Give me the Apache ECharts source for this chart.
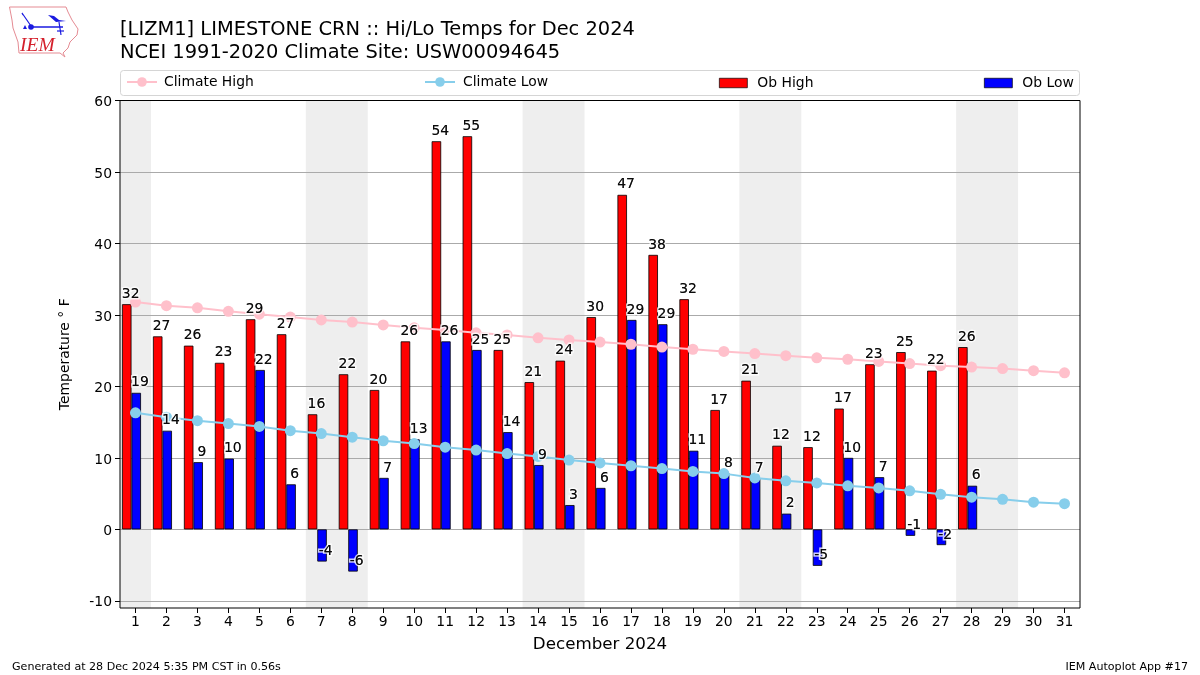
<!DOCTYPE html>
<html>
<head>
<meta charset="utf-8">
<style>html,body{margin:0;padding:0;background:#fff}#c{width:1200px;height:675px}</style>
<script src="https://cdn.jsdelivr.net/npm/echarts@6/dist/echarts.min.js"></script>
</head>
<body>
<div id="c"></div>
<script>
const days = [1,2,3,4,5,6,7,8,9,10,11,12,13,14,15,16,17,18,19,20,21,22,23,24,25,26,27,28,29,30,31];
const obHigh = [31.5,27.0,25.7,23.3,29.4,27.3,16.1,21.7,19.5,26.3,54.3,55.0,25.1,20.6,23.6,29.7,46.8,38.4,32.2,16.7,20.8,11.7,11.5,16.9,23.1,24.8,22.2,25.5,null,null,null];
const obLow = [19.1,13.8,9.4,9.9,22.3,6.3,-4.5,-5.9,7.2,12.6,26.3,25.1,13.6,9.0,3.4,5.8,29.3,28.7,11.0,7.9,7.1,2.2,-5.1,10.0,7.3,-0.9,-2.2,6.1,null,null,null];
const climateHigh = [31.8,31.3,31.0,30.5,30.1,29.7,29.3,29.0,28.6,28.2,27.9,27.5,27.2,26.8,26.5,26.2,25.9,25.5,25.2,24.9,24.6,24.3,24.0,23.8,23.5,23.2,22.9,22.7,22.5,22.2,21.9];
const climateLow = [16.3,15.7,15.2,14.8,14.4,13.8,13.4,12.9,12.4,12.0,11.5,11.1,10.6,10.2,9.7,9.3,8.9,8.5,8.1,7.8,7.2,6.8,6.5,6.1,5.8,5.4,4.9,4.5,4.2,3.8,3.6];
const shadedDays = [1,7,8,14,15,21,22,28,29];
const yTicks = [-10,0,10,20,30,40,50,60];

const FONT = '"DejaVu Sans"';
const TXT = '#000';
const barStyle = c => ({color:c,borderColor:'#000',borderWidth:0.8});
const labelSeries = (name, vals, dx, halo) => ({
  type:'scatter', name, data:vals, symbolSize:0, z:halo?20:21, silent:true,
  itemStyle:{color:'transparent'},
  label:{show:true, position:'top', distance:3, align:'center', offset:[dx,0],
    fontFamily:FONT, fontSize:13.9, color:TXT,
    textBorderColor:halo?'#fff':'transparent', textBorderWidth:halo?3:0,
    formatter:p=>Math.round(p.value)}
});
const lineSeries = (name, vals, c) => ({
  type:'line', name, data:vals, z:10, symbol:'circle', symbolSize:11,
  lineStyle:{color:c,width:2}, itemStyle:{color:c}, silent:true
});
const legendAt = (name,left,w,h,icon,gap,top) => ({
  data:[icon?{name,icon,itemStyle:{borderWidth:0.7}}:name], left, top, itemWidth:w, itemHeight:h, itemGap:0, padding:0,
  textStyle:{fontFamily:FONT,fontSize:13.9,color:TXT,padding:[2,0,0,gap]}
});
const blue='#1a1ae0';
const chart = echarts.init(document.getElementById('c'));
chart.setOption({
  animation:false,
  backgroundColor:'#fff',
  title:[
    {text:'[LIZM1] LIMESTONE CRN :: Hi/Lo Temps for Dec 2024\nNCEI 1991-2020 Climate Site: USW00094645', left:120, top:18, padding:0,
     textStyle:{fontFamily:FONT,fontSize:19.44,fontWeight:'normal',color:TXT,lineHeight:23}},
    {text:'Generated at 28 Dec 2024 5:35 PM CST in 0.56s', left:12, top:661.5, padding:0,
     textStyle:{fontFamily:FONT,fontSize:11.1,fontWeight:'normal',color:TXT}},
    {text:'IEM Autoplot App #17', right:12, top:661.5, padding:0,
     textStyle:{fontFamily:FONT,fontSize:11.1,fontWeight:'normal',color:TXT}}
  ],
  legend:[
    legendAt('Climate High',126,30,12,null,2,75),
    legendAt('Climate Low',424,30,12,null,3,75),
    legendAt('Ob High',719,28,9.5,'rect',5,76),
    legendAt('Ob Low',984,28,9.5,'rect',5,76)
  ],
  grid:{left:120,right:120,top:100.5,bottom:67,containLabel:false,show:true,borderColor:'#000',borderWidth:1,backgroundColor:'transparent',z:1},
  xAxis:{
    type:'category', data:days, z:-1,
    name:'December 2024', nameLocation:'middle', nameGap:28,
    nameTextStyle:{fontFamily:FONT,fontSize:16.7,color:TXT},
    axisLine:{show:false,onZero:false},
    axisTick:{show:true,alignWithLabel:true,length:5,interval:0,lineStyle:{color:'#000'}},
    axisLabel:{interval:0,fontFamily:FONT,fontSize:13.9,color:TXT,margin:7},
    splitLine:{show:false},
    splitArea:{show:true,interval:0,areaStyle:{color:days.map(d=>shadedDays.includes(d)?'#eeeeee':'rgba(255,255,255,0)')}}
  },
  yAxis:{
    type:'value', min:-11, max:60, z:0,
    name:'Temperature ° F', nameLocation:'middle', nameGap:48,
    nameTextStyle:{fontFamily:FONT,fontSize:13.9,color:TXT},
    axisLine:{show:false},
    axisTick:{show:true,length:5,lineStyle:{color:'#000'},customValues:yTicks},
    axisLabel:{margin:8,customValues:yTicks,formatter:'{t|{value}}',
      rich:{t:{fontFamily:FONT,fontSize:13.9,color:TXT,padding:[4,0,0,0]}}},
    splitLine:{show:true,lineStyle:{color:'#aaaaaa',width:1}}
  },
  series:[
    {type:'bar',name:'Ob High',data:obHigh,barWidth:9.5,barGap:0,itemStyle:barStyle('#ff0000'),z:3,silent:true},
    {type:'bar',name:'Ob Low',data:obLow,barWidth:9.5,barGap:0,itemStyle:barStyle('#0000ff'),z:3,silent:true},
    {type:'bar',name:'spacer',data:[],barWidth:8,barGap:0,silent:true},
    lineSeries('Climate High',climateHigh,'#ffc0cb'),
    lineSeries('Climate Low',climateLow,'#87ceeb'),
    labelSeries('High halo',obHigh,-4.85,true),
    labelSeries('Low halo',obLow,4.45,true),
    labelSeries('High labels',obHigh,-4.85,false),
    labelSeries('Low labels',obLow,4.45,false)
  ],
  graphic:[
    {type:'rect',z:-1,silent:true,shape:{x:120.5,y:70.5,width:959,height:25,r:3},style:{fill:'#fff',stroke:'#d5d5d5',lineWidth:1}},
    {type:'polygon',silent:true,shape:{points:[[9.5,7],[66,7],[68,12],[72,20],[78,29],[77,35],[70,42],[68,48],[63,53],[65,57],[60,53],[19,53],[18,42],[13,28],[12,20]]},style:{fill:'#fff',stroke:'#e58b93',lineWidth:1}},
    {type:'polyline',silent:true,shape:{points:[[30,27],[63,27]]},style:{stroke:blue,lineWidth:1.5,fill:'none'}},
    {type:'polyline',silent:true,shape:{points:[[23,15],[22,13],[31,26]]},style:{stroke:blue,lineWidth:1.2,fill:'none'}},
    {type:'polygon',silent:true,shape:{points:[[48,15],[54,16],[59,20],[66,21],[56,22]]},style:{fill:blue}},
    {type:'polyline',silent:true,shape:{points:[[59,22],[61,35]]},style:{stroke:blue,lineWidth:1.2,fill:'none'}},
    {type:'polyline',silent:true,shape:{points:[[57,31],[64,31]]},style:{stroke:blue,lineWidth:1.2,fill:'none'}},
    {type:'circle',silent:true,shape:{cx:31,cy:27,r:2.8},style:{fill:blue}},
    {type:'polygon',silent:true,shape:{points:[[25,25],[23,29],[27,29]]},style:{fill:blue}},
    {type:'text',silent:true,left:20,top:36,style:{text:'IEM',font:'italic 19.5px "Liberation Serif"',fill:'#d4202c'}}
  ]
});
</script>
</body>
</html>
